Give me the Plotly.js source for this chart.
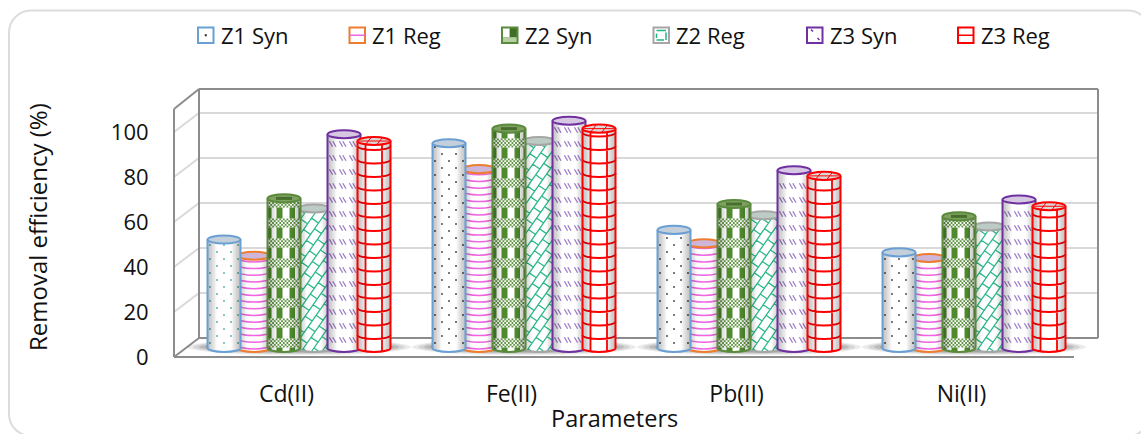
<!DOCTYPE html>
<html>
<head>
<meta charset="utf-8">
<script src="https://cdn.plot.ly/plotly-3.0.1.min.js"></script>
<style>html,body{margin:0;padding:0;background:#fff}</style>
</head>
<body>
<div id="chart" style="width:1141px;height:434px"></div>
<script>
// Removal efficiency by parameter and zeolite sample
const categories = ["Cd(II)", "Fe(II)", "Pb(II)", "Ni(II)"];
const seriesNames = ["Z1 Syn", "Z1 Reg", "Z2 Syn", "Z2 Reg", "Z3 Syn", "Z3 Reg"];
const z1Syn = [48.2, 91, 52.5, 42.5];
const z1Reg = [41, 79.5, 46.5, 40];
const z2Syn = [66.5, 97.5, 64, 58.5];
const z2Reg = [62, 92, 59, 54];
const z3Syn = [95, 101, 79, 66];
const z3Reg = [92, 97.5, 76.5, 63];
const seriesValues = [z1Syn, z1Reg, z2Syn, z2Reg, z3Syn, z3Reg];
const yTicks = [0, 20, 40, 60, 80, 100];
const outlineColors = ["#6a9fd4", "#ed7d31", "#5a8a3c", "#a6a6a6", "#7030a0", "#ff0000"];
const capColors = ["#c3cfda", "#cdb6d8", "#7fa060", "#bccbc4", "#d6c8e2", "#d8d8d8"];
const z1SynDotColors = ["#3fa39a", "#222222", "#222222", "#222222"];

// Oblique projection of the chart box
const W = 1141, H = 434;
const plotL = 174, plotR = 1098, plotT = 89, plotB = 357;
const pxPerCat = 225, pxPerUnit = 2.25;
const wallDX = 25, wallDY = 19;      // back wall offset
const barDX = 12.5, barDY = 9;       // cylinder row offset
const barW = 33, slotPitch = 30;
const capE = 4;                      // semi-height of the cylinder ellipses

const xLo = -0.5, xHi = xLo + (plotR - plotL) / pxPerCat;
const yHi = (plotB - plotT) / pxPerUnit;
const px = v => v / W, py = v => 1 - v / H;
const KAPPA = 0.5523;

const shapes = [];
const add = s => shapes.push(s);

// Chart-area border
const bx0 = 9, by0 = 10.5, bx1 = 1150, by1 = 436, br = 22;
const bk = br * (1 - KAPPA);
add({type: "path", xref: "paper", yref: "paper", line: {color: "#dcdcdc", width: 2}, fillcolor: "rgba(0,0,0,0)",
  path: `M${px(bx0 + br)},${py(by0)} L${px(bx1 - br)},${py(by0)} C${px(bx1 - bk)},${py(by0)} ${px(bx1)},${py(by0 + bk)} ${px(bx1)},${py(by0 + br)} L${px(bx1)},${py(by1 - br)} C${px(bx1)},${py(by1 - bk)} ${px(bx1 - bk)},${py(by1)} ${px(bx1 - br)},${py(by1)} L${px(bx0 + br)},${py(by1)} C${px(bx0 + bk)},${py(by1)} ${px(bx0)},${py(by1 - bk)} ${px(bx0)},${py(by1 - br)} L${px(bx0)},${py(by0 + br)} C${px(bx0)},${py(by0 + bk)} ${px(bx0 + bk)},${py(by0)} ${px(bx0 + br)},${py(by0)} Z`});

// Back wall and side wall gridlines
const wallShift = wallDY / pxPerUnit;
yTicks.filter(t => t > 0).forEach(t => {
  add({type: "line", xref: "paper", yref: "y", x0: px(plotL + wallDX), x1: px(plotR), y0: t + wallShift, y1: t + wallShift,
    line: {color: "#d9d9d9", width: 2}});
  add({type: "line", xref: "paper", yref: "y", x0: px(plotL), x1: px(plotL + wallDX), y0: t, y1: t + wallShift,
    line: {color: "#d9d9d9", width: 2}});
});

// Frame lines
const frameLine = {color: "#8c8c8c", width: 2};
const line = (x0, y0, x1, y1) => add({type: "line", xref: "paper", yref: "paper",
  x0: px(x0), y0: py(y0), x1: px(x1), y1: py(y1), line: frameLine});
line(plotL + wallDX, plotT, plotR, plotT);
line(plotR, plotT, plotR, plotB - wallDY);
line(plotL + wallDX, plotT, plotL + wallDX, plotB - wallDY);
line(plotL + wallDX, plotB - wallDY, plotR, plotB - wallDY);
line(plotL, plotT + wallDY + 1, plotL + wallDX, plotT);
line(plotL, plotT + wallDY + 1, plotL, plotB);
line(plotL, plotB, plotL + wallDX, plotB - wallDY);
line(plotL, plotB, plotL + 900, plotB);

// Floor shadows beneath each cylinder group
categories.forEach((c, i) => {
  [[112, 8, .12], [106, 7, .16], [100, 6, .22], [94, 5, .28], [88, 4, .3]].forEach(([a, b, op]) => {
    add({type: "circle", xref: "x2", yref: "y2", x0: i - a / pxPerCat, x1: i + a / pxPerCat,
      y0: -(b - 1) / pxPerUnit, y1: (b + 1) / pxPerUnit, fillcolor: "#5e5e5e", opacity: op, line: {width: 0}});
  });
});

// Clip a segment to a box (Liang-Barsky); returns null when it lies outside
function clip(x0, y0, x1, y1, xa, xb, ya, yb) {
  let t0 = 0, t1 = 1;
  const dx = x1 - x0, dy = y1 - y0;
  const tests = [[-dx, x0 - xa], [dx, xb - x0], [-dy, y0 - ya], [dy, yb - y0]];
  for (const [p, q] of tests) {
    if (p === 0) { if (q < 0) return null; continue; }
    const r = q / p;
    if (p < 0) { if (r > t1) return null; if (r > t0) t0 = r; }
    else { if (r < t0) return null; if (r < t1) t1 = r; }
  }
  return [x0 + t0 * dx, y0 + t0 * dy, x0 + t1 * dx, y0 + t1 * dy];
}

// One cylinder: local pixel offsets from its base centre are sent through the value scale
function cylinder(catIdx, s, value) {
  const slot = (s - 2.5) * slotPitch;
  const r = barW / 2, e = capE, top = value * pxPerUnit;
  const X = d => (catIdx + (slot + d) / pxPerCat).toFixed(5);
  const Y = h => (h / pxPerUnit).toFixed(4);
  const P = (d, h) => `${X(d)},${Y(h)}`;
  const sag = d => e * Math.sqrt(Math.max(0, 1 - (d / r) * (d / r)));
  const lowerArc = h => `C${P(-r, h - KAPPA * e)} ${P(-KAPPA * r, h - e)} ${P(0, h - e)} C${P(KAPPA * r, h - e)} ${P(r, h - KAPPA * e)} ${P(r, h)}`;
  const upperArc = h => `C${P(r, h + KAPPA * e)} ${P(KAPPA * r, h + e)} ${P(0, h + e)} C${P(-KAPPA * r, h + e)} ${P(-r, h + KAPPA * e)} ${P(-r, h)}`;
  const refs = {type: "path", xref: "x2", yref: "y2"};
  const stroke = (path, color, width) => add({...refs, path, fillcolor: "rgba(0,0,0,0)", line: {color, width}});
  const solid = (path, color) => add({...refs, path, fillcolor: color, line: {width: 0}});

  // White body
  solid(`M${P(-r, 0)} ${lowerArc(0)} L${P(r, top)} L${P(-r, top)} Z`, "#ffffff");

  // Pattern
  let d = "";
  const seg = (a, b, c, f) => {
    const q = clip(a, b, c, f, -r, r, -e + 1, top - 1);
    if (q) d += `M${P(q[0], q[1])} L${P(q[2], q[3])} `;
  };
  if (s === 0) {
    for (let j = 0, h = 5; h < top; j++, h += 7) {
      for (let x = -14 + (j % 2 ? 7 : 0); x < 15; x += 14) {
        const q = 0.8;
        d += `M${P(x - q, h - q)} L${P(x + q, h - q)} L${P(x + q, h + q)} L${P(x - q, h + q)} Z `;
      }
    }
    solid(d, z1SynDotColors[catIdx]);
  } else if (s === 1) {
    for (let h = 3; h < top; h += 6.7) d += `M${P(-r, h)} ${lowerArc(h)} `;
    stroke(d, "#ee66e0", 1.5);
  } else if (s === 2) {
    const green = "#4f8a2d";
    [[-16, -12.5], [-7.5, -1.5], [5.5, 11], [14.5, 16.5]].forEach(([a, b]) => {
      d += `M${P(a, -sag((a + b) / 2))} L${P(b, -sag((a + b) / 2))} L${P(b, top)} L${P(a, top)} Z `;
    });
    solid(d, green);
    let w = "", checks = "";
    for (let h = 5; h - 4 < top; h += 20) {
      const b0 = h - 4.5, b1 = Math.min(h + 4.5, top);
      if (b1 <= b0) continue;
      w += `M${P(-r + .5, b0)} L${P(r - .5, b0)} L${P(r - .5, b1)} L${P(-r + .5, b1)} Z `;
      for (let row = 0, yy = b0; yy < b1 - .5; row++, yy += 1.8) {
        for (let x = -r + 1 + (row % 2) * 1.8; x < r - 1.5; x += 3.6) {
          checks += `M${P(x, yy)} L${P(x + 1.8, yy)} L${P(x + 1.8, yy + 1.8)} L${P(x, yy + 1.8)} Z `;
        }
      }
    }
    solid(w, "#ffffff");
    solid(checks, "#5f9440");
  } else if (s === 3) {
    const ang = 55 * Math.PI / 180;
    const ax = Math.cos(ang), ay = Math.sin(ang), bx = ay, by = -ax;
    const gap = 8.5, len = 14, reach = top + 60;
    for (let j = -16; j <= 16; j++) {
      const ox = bx * gap * j, oy = by * gap * j;
      seg(ox - ax * reach, oy - ay * reach, ox + ax * reach, oy + ay * reach);
      for (let k = -Math.ceil(reach / len); k * len < reach; k++) {
        const t = k * len + (((j % 2) + 2) % 2) * len / 2;
        seg(ox + ax * t, oy + ay * t, ox + ax * t + bx * gap, oy + ay * t + by * gap);
      }
    }
    stroke(d, "#2bb98a", 1.3);
  } else if (s === 4) {
    for (let h = 8; h < top - 3; h += 14) {
      [-11, -1, 9].forEach(x => {
        [-2, 1.4].forEach(o => seg(x + o - 1.6, h + 2.8, x + o + 1.6, h - 2.8));
      });
    }
    stroke(d, "#a07ccb", 1.3);
  } else {
    [-8.5, 8].forEach(x => { d += `M${P(x, -sag(x))} L${P(x, top - sag(x))} `; });
    for (let h = 13; h < top; h += 13.5) d += `M${P(-r, h)} ${lowerArc(h)} `;
    stroke(d, outlineColors[5], 1.8);
  }

  // Side shading of the cylinder
  for (let i = 1; i <= 6; i++) {
    const sw = 1.5 * i;
    const edge = (a, b) => {
      let p = `M${P(a, -sag(a))} `;
      for (let k = 1; k <= 3; k++) { const x = a + (b - a) * k / 3; p += `L${P(x, -sag(x))} `; }
      return p + `L${P(b, top)} L${P(a, top)} Z `;
    };
    add({...refs, path: edge(-r, -r + sw) + edge(r - sw, r), fillcolor: "#000000", opacity: 0.042, line: {width: 0}});
  }

  // Outline, then the lid
  stroke(`M${P(-r, top)} L${P(-r, 0)} ${lowerArc(0)} L${P(r, top)}`, outlineColors[s], 2);
  add({...refs, path: `M${P(-r, top)} ${lowerArc(top)} ${upperArc(top)} Z`, fillcolor: capColors[s],
    line: {color: outlineColors[s], width: 2}});
  if (s === 5) stroke(`M${P(-8, top - 3)} L${P(-3, top + 3.4)} M${P(3, top - 3.4)} L${P(8, top + 3)} M${P(-r + 1, top)} L${P(r - 1, top)}`, outlineColors[5], 1);
  if (s === 2) stroke(`M${P(-8, top)} L${P(8, top)}`, "#466f2c", 3);
}

const drawOrder = [1, 3, 0, 2, 4, 5];
categories.forEach((c, i) => drawOrder.forEach(s => cylinder(i, s, seriesValues[s][i])));

// Bar traces on the shifted row axes
const traces = seriesNames.map((name, s) => ({
  type: "bar", name, x: categories.map((c, i) => i), y: seriesValues[s], xaxis: "x2", yaxis: "y2",
  width: barW / pxPerCat, offset: ((s - 2.5) * slotPitch - barW / 2) / pxPerCat,
  marker: {color: "#ffffff", line: {width: 0}}, showlegend: false,
  customdata: categories, hovertemplate: "%{customdata}: %{y}<extra>" + name + "</extra>"
}));

// Legend keys and text
const fontFamily = "'Open Sans', sans-serif";
const textFont = {family: fontFamily, size: 22, color: "#111111"};
const titleFont = {family: fontFamily, size: 23.5, color: "#111111"};
const categoryFont = {family: fontFamily, size: 23, color: "#111111"};
const annotations = [];
const keyX = [198, 349.5, 502, 653.5, 807, 958];
const keyY0 = 27.5, keyS = 15.5;
seriesNames.forEach((name, s) => {
  const x0 = keyX[s], y0 = keyY0, x1 = x0 + keyS, y1 = y0 + keyS;
  const mx = (x0 + x1) / 2, my = (y0 + y1) / 2;
  const rp = (a, b, c, e) => `M${px(a)},${py(b)} L${px(c)},${py(b)} L${px(c)},${py(e)} L${px(a)},${py(e)} Z`;
  add({type: "path", xref: "paper", yref: "paper", path: rp(x0, y0, x1, y1),
    fillcolor: s === 2 ? "#5f9440" : "#ffffff", line: {color: outlineColors[s], width: 2}});
  const mark = (path, color, width) => add({type: "path", xref: "paper", yref: "paper", path,
    fillcolor: width ? "rgba(0,0,0,0)" : color, line: width ? {color, width} : {width: 0}});
  if (s === 0) mark(rp(mx - 1, my - 1, mx + 1, my + 1), "#222222");
  if (s === 1) mark(`M${px(x0)},${py(my)} L${px(x1)},${py(my)}`, "#ee66e0", 1.5);
  if (s === 2) {
    mark(rp(x0 + 1, y0 + 1, mx, my + 2), "#ffffff");
    mark(rp(mx, y0 + 1, x1 - 1, my + 2), "#3f6f26");
    mark(rp(x0 + 1, my + 2, x1 - 1, y1 - 1), "#b6d0a4");
  }
  if (s === 3) mark(`M${px(x0 + 3)},${py(y0 + 3)} L${px(x1 - 3)},${py(y0 + 3)} M${px(x1 - 3)},${py(y0 + 5)} L${px(x1 - 3)},${py(y1 - 3)} M${px(x1 - 5)},${py(y1 - 3)} L${px(x0 + 3)},${py(y1 - 3)} M${px(x0 + 3)},${py(y1 - 5)} L${px(x0 + 3)},${py(y0 + 6)}`, "#22b585", 1.5);
  if (s === 4) mark(`M${px(x0 + 4)},${py(y0 + 2)} L${px(x0 + 6)},${py(y0 + 4)} M${px(x1 - 5)},${py(y1 - 5)} L${px(x1 - 3)},${py(y1 - 3)}`, outlineColors[4], 1.5);
  if (s === 5) mark(`M${px(x0)},${py(my)} L${px(x1)},${py(my)}`, outlineColors[5], 1.5);
  annotations.push({xref: "paper", yref: "paper", x: px(x1 + 5), y: py(35), xanchor: "left", yanchor: "middle",
    showarrow: false, text: name, font: textFont});
});

annotations.push({xref: "paper", yref: "paper", x: px(37), y: py(227), textangle: -90, xanchor: "center", yanchor: "middle",
  showarrow: false, text: "Removal efficiency (%)", font: {family: fontFamily, size: 24, color: "#111111"}});
annotations.push({xref: "paper", yref: "paper", x: px(614), y: py(418), xanchor: "center", yanchor: "middle",
  showarrow: false, text: "Parameters", font: titleFont});

const domX = [plotL / W, plotR / W], domY = [1 - plotB / H, 1 - plotT / H];
const layout = {
  width: W, height: H, autosize: false, showlegend: false,
  margin: {l: 0, r: 0, t: 0, b: 0},
  paper_bgcolor: "#ffffff", plot_bgcolor: "rgba(0,0,0,0)",
  barmode: "overlay", font: textFont, shapes, annotations,
  xaxis: {domain: domX, range: [xLo, xHi], tickmode: "array", tickvals: categories.map((c, i) => i), ticktext: categories,
    showgrid: false, zeroline: false, showline: false, ticks: "outside", ticklen: 16, tickcolor: "rgba(0,0,0,0)", tickfont: categoryFont, fixedrange: true},
  yaxis: {domain: domY, range: [0, yHi], tickmode: "array", tickvals: yTicks, ticktext: yTicks.map(String),
    showgrid: false, zeroline: false, showline: false, ticks: "outside", ticklen: 20, tickcolor: "rgba(0,0,0,0)", tickfont: textFont, fixedrange: true},
  xaxis2: {domain: domX, overlaying: "x", anchor: "y2", visible: false, fixedrange: true,
    range: [xLo - barDX / pxPerCat, xHi - barDX / pxPerCat]},
  yaxis2: {domain: domY, overlaying: "y", anchor: "x2", visible: false, fixedrange: true,
    range: [-barDY / pxPerUnit, yHi - barDY / pxPerUnit]}
};
Plotly.newPlot("chart", traces, layout, {displayModeBar: false, responsive: false});
</script>
</body>
</html>
